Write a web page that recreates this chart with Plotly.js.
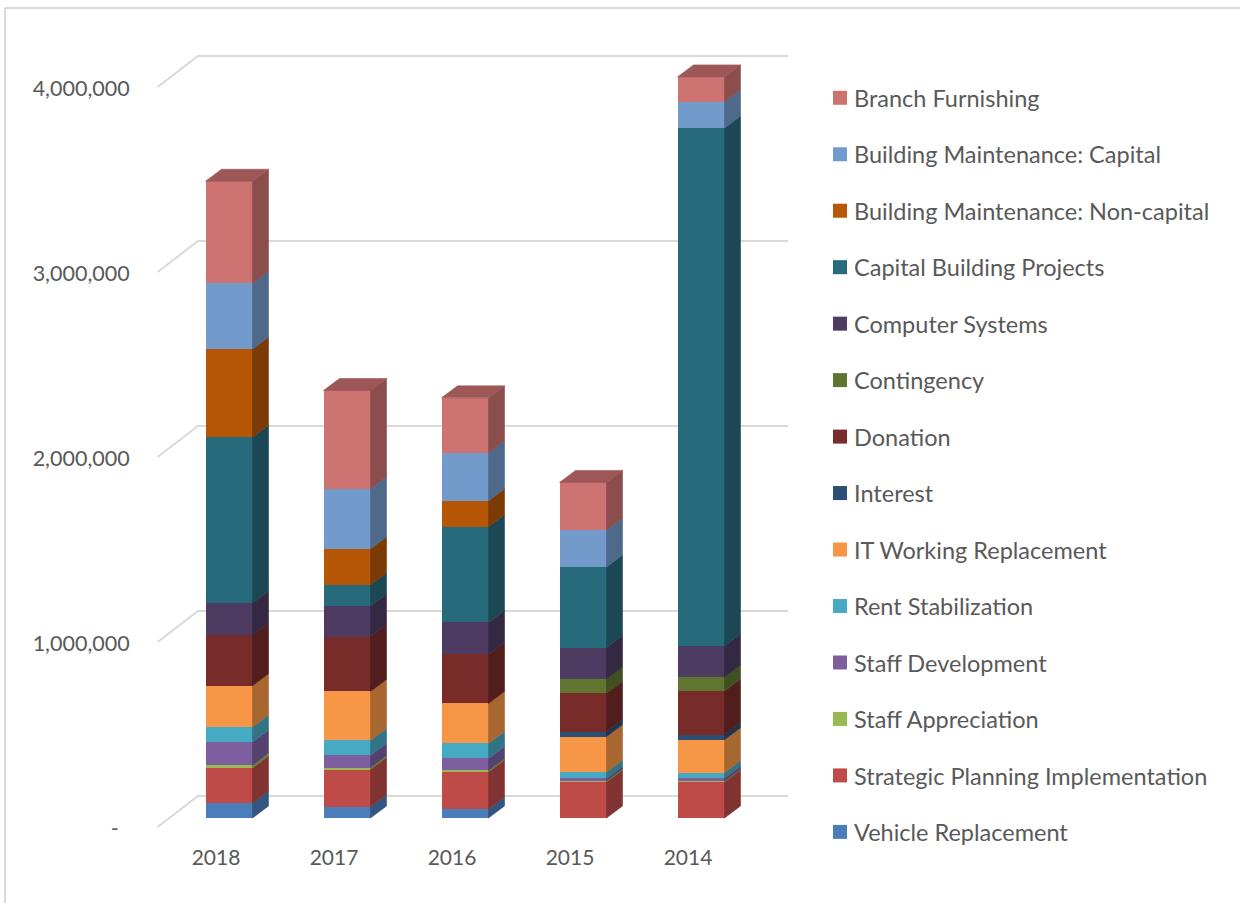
<!DOCTYPE html>
<html>
<head>
<meta charset="utf-8">
<script src="https://cdn.plot.ly/plotly-3.0.1.min.js"></script>
<style>html,body{margin:0;padding:0;background:#fff}#chart{width:1240px;height:903px}</style>
</head>
<body>
<div id="chart"></div>
<script>
const years = ['2018','2017','2016','2015','2014'];
const axisTicks = [0,1000000,2000000,3000000,4000000];
const axisTickText = ['-\u00A0\u00A0','1,000,000','2,000,000','3,000,000','4,000,000'];

const seriesNames = ['Vehicle Replacement','Strategic Planning Implementation','Staff Appreciation','Staff Development','Rent Stabilization','IT Working Replacement','Interest','Donation','Contingency','Computer Systems','Capital Building Projects','Building Maintenance: Non-capital','Building Maintenance: Capital','Branch Furnishing'];
const seriesColors = ['#4a7ebb','#be4b48','#98b954','#7d5fa0','#46aac5','#f79646','#2c4d75','#772c2a','#5f7530','#4d3b62','#276a7c','#b65708','#729aca','#cd7371'];

const vehicle     = [ 81000, 61000, 49000,      0,      0];
const strategic   = [189000,202000,200000, 195000, 195000];
const appreciation= [ 16000, 10000,  8000,   5000,   4000];
const staffDev    = [124000, 65000, 65000,  14000,  16000];
const rent        = [ 81000, 81000, 81000,  34000,  30000];
const itWorking   = [224000,265000,216000, 192000, 178000];
const interest    = [     0,     0,     0,  27000,  28000];
const donation    = [273000,297000,265000, 208000, 235000];
const contingency = [     0,     0,     0,  76000,  76000];
const computer    = [173000,165000,173000, 170000, 168000];
const capitalProj = [897000,114000,517000, 436000,2800000];
const nonCapital  = [476000,195000,141000,      0,      0];
const bldgCapital = [357000,324000,259000, 200000, 141000];
const branch      = [551000,532000,297000, 257000, 135000];
const seriesValues = [vehicle,strategic,appreciation,staffDev,rent,itWorking,interest,donation,contingency,computer,capitalProj,nonCapital,bldgCapital,branch];

// Page geometry of the plot frame (px)
const plotL=157, plotR=788, plotT=46, plotB=828;
const pxPerUnit=185/1000000, pxPerSlot=118;
const pxX=plotR-plotL;
const pxY=plotB-plotT;
const xMin=-0.5, xMax=xMin+pxX/pxPerSlot;
const yMax=pxY/pxPerUnit;
// tick labels sit a little below the front edge of each grid line
const frontLift=1/pxPerUnit;
// depth of the chart floor
const wallDx=41/pxPerSlot, wallDy=31/pxPerUnit;
// bars sit part way into the floor
const barXShift=13/pxPerSlot, barYPx=10;
const barW=47/pxPerSlot, sideDx=16/pxPerSlot, sideDy=12/pxPerUnit;

function shade(hex,f){
  const n=parseInt(hex.slice(1),16);
  const c=[n>>16,(n>>8)&255,n&255].map(v=>Math.round(v*f));
  return 'rgb('+c.join(',')+')';
}

const traces=[];

// floor and wall grid lines
axisTicks.forEach(t=>{
  const f=t+frontLift;
  traces.push({type:'scatter',mode:'lines',x:[xMin+0.005,xMin+wallDx,xMax],y:[f,f+wallDy,f+wallDy],
    xaxis:'x',yaxis:'y',line:{color:'#d9d9d9',width:2},showlegend:false,hoverinfo:'skip'});
});

// front faces
seriesNames.forEach((name,s)=>{
  traces.push({type:'bar',name:name,x:years.map((_,i)=>i+barXShift),y:seriesValues[s],width:barW,
    xaxis:'x',yaxis:'y2',legendgroup:name,legendrank:seriesNames.length-s,marker:{color:seriesColors[s],line:{width:0}}});
});

// side faces
const running=years.map(()=>0);
seriesNames.forEach((name,s)=>{
  const xs=[],ys=[];
  years.forEach((_,i)=>{
    const v=seriesValues[s][i];
    if(v>0){
      const a=i+barXShift+barW/2, b=a+sideDx, y0=running[i], y1=y0+v;
      xs.push(a,b,b,a,a,null);
      ys.push(y0,y0+sideDy,y1+sideDy,y1,y0,null);
    }
    running[i]+=v;
  });
  const c=shade(seriesColors[s],0.68);
  traces.push({type:'scatter',mode:'lines',x:xs,y:ys,fill:'toself',fillcolor:c,
    line:{width:0.6,color:c,simplify:false},xaxis:'x',yaxis:'y2',showlegend:false,hoverinfo:'skip'});
});

// top faces
{
  const xs=[],ys=[];
  years.forEach((_,i)=>{
    const a=i+barXShift-barW/2, b=i+barXShift+barW/2, t=running[i];
    xs.push(a,b,b+sideDx,a+sideDx,a,null);
    ys.push(t,t,t+sideDy,t+sideDy,t,null);
  });
  const c=shade(seriesColors[13],0.76);
  traces.push({type:'scatter',mode:'lines',x:xs,y:ys,fill:'toself',fillcolor:c,
    line:{width:0.6,color:c,simplify:false},xaxis:'x',yaxis:'y2',showlegend:false,hoverinfo:'skip'});
}

const font='Lato, "Open Sans", sans-serif';
const paperX=p=>(p-plotL)/pxX, paperY=p=>(plotB-p)/pxY;
const border={color:'#d9d9d9',width:2};

const layout={
  width:1240,height:903,
  margin:{l:plotL,r:1240-plotR,t:plotT,b:903-plotB,pad:0,autoexpand:false},
  paper_bgcolor:'#fff',plot_bgcolor:'rgba(0,0,0,0)',
  barmode:'stack',
  font:{family:font,color:'#595959',size:21},
  xaxis:{range:[xMin,xMax],tickmode:'array',tickvals:years.map((_,i)=>i),ticktext:years,
    showgrid:false,zeroline:false,showline:false,ticks:'outside',ticklen:11,tickcolor:'rgba(0,0,0,0)',
    tickfont:{family:font,size:21,color:'#595959'},fixedrange:true},
  yaxis:{range:[0,yMax],tickmode:'array',tickvals:axisTicks,ticktext:axisTickText,
    showgrid:false,zeroline:false,showline:false,ticks:'outside',ticklen:22,tickcolor:'rgba(0,0,0,0)',
    tickfont:{family:font,size:21.5,color:'#595959'},fixedrange:true},
  yaxis2:{range:[-barYPx/pxPerUnit,yMax-barYPx/pxPerUnit],overlaying:'y',side:'left',visible:false,fixedrange:true},
  legend:{x:paperX(814),xanchor:'left',y:paperY(76),yanchor:'top',traceorder:'grouped',maxheight:850,
    tracegroupgap:22.92,font:{family:font,size:23.5,color:'#595959'},bgcolor:'rgba(0,0,0,0)'},
  shapes:[
    {type:'line',xref:'paper',yref:'paper',x0:paperX(5),x1:paperX(5),y0:paperY(8),y1:paperY(903),line:border},
    {type:'line',xref:'paper',yref:'paper',x0:paperX(5),x1:paperX(1240),y0:paperY(8),y1:paperY(8),line:border}
  ],
  showlegend:true
};

Plotly.newPlot('chart',traces,layout,{displayModeBar:false,staticPlot:false}).then(()=>{
  document.querySelectorAll('#chart .legend .legendpoints path').forEach(p=>{
    p.setAttribute('d','M7,7H-7V-7H7Z');
    p.setAttribute('transform','translate(26,0)');
  });
});
</script>
</body>
</html>
